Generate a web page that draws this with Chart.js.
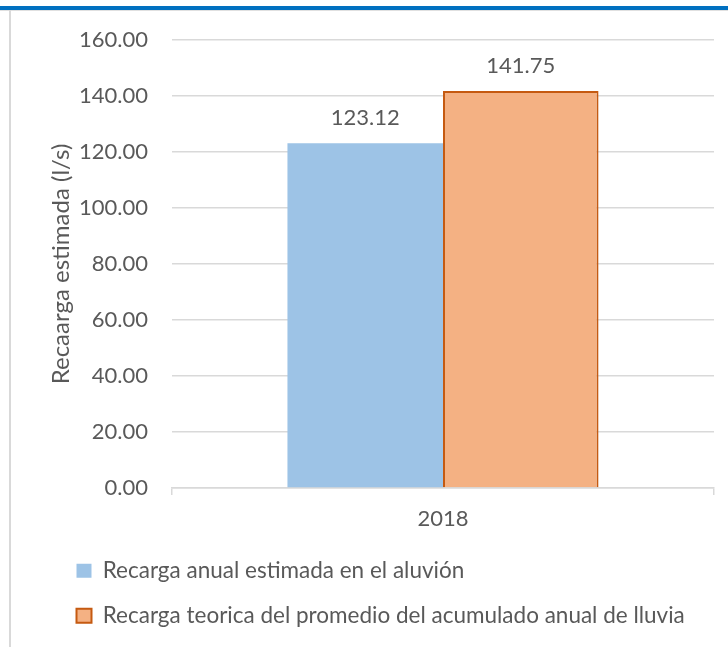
<!DOCTYPE html>
<html>
<head>
<meta charset="utf-8">
<script src="https://cdn.jsdelivr.net/npm/chart.js@4"></script>
<style>
  html, body { margin: 0; padding: 0; background: #ffffff; overflow: hidden; }
  #wrap { position: relative; width: 728px; height: 647px; }
  #topband { position: absolute; left: 0; top: 6px; width: 728px; height: 4px; background: #0070c0; }
  #topline { position: absolute; left: 0; top: 10px; width: 728px; height: 1px; background: #e0e0e0; }
  #leftline { position: absolute; left: 9px; top: 10px; width: 2px; height: 637px; background: #d9d9d9; }
  canvas { position: absolute; left: 0; top: 0; }
</style>
</head>
<body>
<div id="wrap">
  <div id="topband"></div>
  <div id="topline"></div>
  <div id="leftline"></div>
  <canvas id="c" width="728" height="647"></canvas>
</div>
<script>
const categories = ['2018'];
const seriesNames = [
  'Recarga anual estimada en el aluvión',
  'Recarga teorica del promedio del acumulado anual de lluvia'
];
const aluvionValues = [123.12];
const lluviaValues = [141.75];
const yTickValues = [0, 20, 40, 60, 80, 100, 120, 140, 160];
const yAxisTitle = 'Recaarga estimada (l/s)';

const FONT = 'Lato';
const TXT = '#595959';
const GRID = '#d9d9d9';

const dataLabelPlugin = {
  id: 'dataLabels',
  afterDatasetsDraw(chart) {
    const ctx = chart.ctx;
    ctx.save();
    ctx.font = '22px ' + FONT;
    ctx.fillStyle = TXT;
    ctx.textAlign = 'center';
    ctx.textBaseline = 'middle';
    chart.data.datasets.forEach((ds, i) => {
      const meta = chart.getDatasetMeta(i);
      meta.data.forEach((el, j) => {
        ctx.fillText(Number(ds.data[j]).toFixed(2), el.x, el.y - 25);
      });
    });
    ctx.restore();
  }
};

const legendShiftPlugin = {
  id: 'legendShift',
  afterLayout(chart) {
    if (chart.legend) { chart.legend.left += 54; }
  }
};

new Chart(document.getElementById('c'), {
  type: 'bar',
  data: {
    labels: categories,
    datasets: [
      {
        label: seriesNames[0],
        data: aluvionValues,
        backgroundColor: '#9dc3e6',
        borderColor: '#9dc3e6',
        borderWidth: 0,
        categoryPercentage: 0.574,
        barPercentage: 1.0
      },
      {
        label: seriesNames[1],
        data: lluviaValues,
        backgroundColor: '#f4b183',
        borderColor: '#c55a11',
        borderWidth: 2,
        categoryPercentage: 0.574,
        barPercentage: 1.0
      }
    ]
  },
  options: {
    responsive: false,
    animation: false,
    devicePixelRatio: 1,
    layout: { padding: { top: 40, right: 14, bottom: 10, left: 0 } },
    plugins: {
      legend: {
        display: true,
        position: 'bottom',
        align: 'start',
        labels: {
          boxWidth: 15,
          boxHeight: 14,
          padding: 22.5,
          color: TXT,
          font: { family: FONT, size: 22.5 }
        }
      },
      tooltip: { enabled: false },
      title: { display: false }
    },
    scales: {
      x: {
        type: 'category',
        offset: true,
        grid: {
          offset: true,
          drawOnChartArea: false,
          drawTicks: true,
          tickLength: 7,
          color: GRID,
          lineWidth: 1.5
        },
        border: { display: true, color: GRID, width: 1.5 },
        ticks: { color: TXT, padding: 11, font: { family: FONT, size: 22 } },
        afterFit(scale) { scale.height = 49; }
      },
      y: {
        min: 0,
        max: 160,
        afterBuildTicks(scale) {
          scale.ticks = yTickValues.map(v => ({ value: v }));
        },
        grid: { color: GRID, lineWidth: 1.5, drawTicks: false },
        border: { display: false },
        ticks: {
          color: TXT,
          padding: 24,
          font: { family: FONT, size: 22 },
          callback: v => Number(v).toFixed(2)
        },
        title: {
          display: true,
          text: yAxisTitle,
          color: TXT,
          font: { family: FONT, size: 24 },
          padding: { top: 47, bottom: 0 }
        },
        afterFit(scale) { scale.width = 172; }
      }
    }
  },
  plugins: [dataLabelPlugin, legendShiftPlugin]
});
</script>
</body>
</html>
